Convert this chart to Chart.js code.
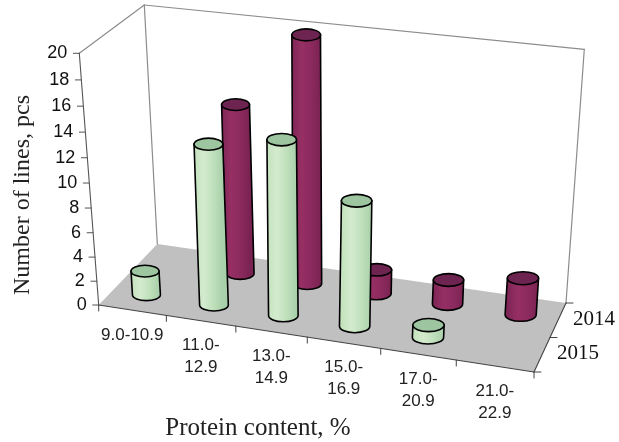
<!DOCTYPE html>
<html>
<head>
<meta charset="utf-8">
<style>
  html, body { margin: 0; padding: 0; background: #fff; }
  canvas { display: block; }
</style>
<script src="https://cdn.jsdelivr.net/npm/chart.js@4"></script>
</head>
<body>
<canvas id="chart" width="619" height="442"></canvas>
<script>
const categories = ['9.0-10.9', ['11.0-', '12.9'], ['13.0-', '14.9'], ['15.0-', '16.9'], ['17.0-', '20.9'], ['21.0-', '22.9']];
const years = ['2014', '2015'];
const values2014 = [0, 14, 20, 2, 2, 3];
const values2015 = [2, 13, 14, 10, 1, 0];
const yMax = 20;
const yStep = 2;
const xTitle = 'Protein content, %';
const yTitle = 'Number of lines, pcs';

// corners of the 3d box as seen in the reference
const box = {
    flb: [98.7, 305], flt: [79.3, 53.3],
    blb: [157.3, 244], blt: [144.3, 5],
    frb: [534, 372], frt: [556, 100],
    brb: [566, 303], brt: [584.3, 49.3]
};

const mix = (a, b, t) => [a[0] + (b[0] - a[0]) * t, a[1] + (b[1] - a[1]) * t];
// slight perspective foreshortening along an edge
const persp = (t, w) => t * w / ((1 - t) + t * w);

// x, v, d all 0..1: x left to right, v floor to top, d front to back
function project(x, v, d) {
    const px = persp(x, 0.92);
    const bottom = mix(mix(box.flb, box.frb, px), mix(box.blb, box.brb, px), d);
    const top = mix(mix(box.flt, box.frt, px), mix(box.blt, box.brt, px), d);
    return mix(bottom, top, persp(v, 0.94));
}

function line(ctx, a, b, color, width) {
    ctx.strokeStyle = color;
    ctx.lineWidth = width;
    ctx.beginPath();
    ctx.moveTo(a[0], a[1]);
    ctx.lineTo(b[0], b[1]);
    ctx.stroke();
}

function toUnit(chart) {
    const { x, y, depth } = chart.scales;
    return {
        x: i => x.getPixelForValue(i) / chart.width,
        v: val => (y.bottom - y.getPixelForValue(val)) / (y.bottom - y.top),
        d: name => depth.getPixelForValue(depth.getLabels().indexOf(name)) / chart.width
    };
}

function drawCylinder(ctx, x, v, d, half, colors) {
    const base = project(x, 0, d);
    const top = project(x, v, d);
    const left = project(x - half, 0, d), right = project(x + half, 0, d);
    const rx = (right[0] - left[0]) / 2;
    const ry = rx * 0.42;
    const grad = ctx.createLinearGradient(top[0] - rx, 0, top[0] + rx, 0);
    colors.side.forEach((c, i) => grad.addColorStop(i / (colors.side.length - 1), c));

    ctx.strokeStyle = '#000';
    ctx.lineWidth = 1.6;
    ctx.beginPath();
    ctx.moveTo(top[0] - rx, top[1]);
    ctx.lineTo(base[0] - rx, base[1]);
    ctx.ellipse(base[0], base[1], rx, ry, 0, Math.PI, 0, true);
    ctx.lineTo(top[0] + rx, top[1]);
    ctx.closePath();
    ctx.fillStyle = grad;
    ctx.fill();
    ctx.stroke();

    ctx.beginPath();
    ctx.ellipse(top[0], top[1], rx, ry, 0, 0, Math.PI * 2);
    ctx.fillStyle = colors.top;
    ctx.fill();
    ctx.stroke();
}

const seriesColors = {
    '2014': { top: '#6e2450', side: ['#7e2556', '#962f64', '#8c2a5e', '#7a2352'] },
    '2015': { top: '#9dc5a0', side: ['#c4e2bd', '#d4ebce', '#bfe0bb', '#a8d0aa'] }
};

const boxPlugin = {
    id: 'box3d',
    beforeDatasetsDraw(chart) {
        const ctx = chart.ctx;
        const u = toUnit(chart);
        ctx.save();
        ctx.lineCap = 'round';

        // floor
        ctx.fillStyle = '#c0c0c0';
        ctx.beginPath();
        [box.flb, box.frb, box.brb, box.blb].forEach((p, i) => i ? ctx.lineTo(p[0], p[1]) : ctx.moveTo(p[0], p[1]));
        ctx.closePath();
        ctx.fill();

        // walls
        line(ctx, box.flt, box.blt, '#8c8c8c', 1.2);
        line(ctx, box.blt, box.brt, '#8c8c8c', 1.2);
        line(ctx, box.blt, box.blb, '#8c8c8c', 1.2);
        line(ctx, box.brt, box.brb, '#8c8c8c', 1.2);

        // axes
        line(ctx, box.flb, box.flt, '#555', 1.1);
        line(ctx, box.flb, box.frb, '#444', 1.1);
        line(ctx, box.frb, box.brb, '#444', 1.1);

        // value axis ticks and labels
        ctx.fillStyle = '#111';
        ctx.font = '18px "Liberation Sans"';
        ctx.textAlign = 'right';
        ctx.textBaseline = 'middle';
        chart.scales.y.ticks.forEach(t => {
            const p = project(0, u.v(t.value), 0);
            line(ctx, [p[0] - 6, p[1]], p, '#555', 1);
            ctx.fillText(String(t.value), p[0] - 12, p[1]);
        });

        // category ticks and labels
        ctx.fillStyle = '#222';
        ctx.font = '17px "Liberation Sans"';
        ctx.textAlign = 'center';
        for (let i = 0; i <= categories.length; i++) {
            const p = project(i / categories.length, 0, 0);
            line(ctx, p, [p[0], p[1] + 6], '#444', 1);
        }
        categories.forEach((label, i) => {
            const p = project(u.x(i), 0, 0);
            [].concat(label).forEach((text, row) => ctx.fillText(text, p[0], p[1] + 25 + row * 22));
        });

        // depth ticks and labels
        ctx.fillStyle = '#111';
        ctx.font = '21px "Liberation Serif"';
        ctx.textAlign = 'left';
        for (let i = 0; i <= years.length; i++) {
            const p = project(1, 0, i / years.length);
            line(ctx, p, [p[0] + 7, p[1]], '#444', 1);
        }
        years.forEach(name => {
            const p = project(1, 0, u.d(name));
            ctx.fillText(name, p[0] + 15, p[1] - 1);
        });

        // axis titles
        ctx.fillStyle = '#222';
        ctx.font = '25px "Liberation Serif"';
        ctx.textAlign = 'center';
        ctx.fillText(xTitle, 258, 428);
        ctx.font = '24px "Liberation Serif"';
        ctx.save();
        ctx.translate(23, 195);
        ctx.rotate(-Math.PI / 2);
        ctx.fillText(yTitle, 0, 0);
        ctx.restore();
        ctx.restore();
    },
    afterDatasetsDraw(chart) {
        const ctx = chart.ctx;
        const u = toUnit(chart);
        const half = 0.42 / categories.length / 2;
        ctx.save();
        // back series first so the front one overlaps it
        chart.data.datasets.forEach(ds => {
            ds.data.forEach((val, i) => {
                if (!val) return;
                drawCylinder(ctx, u.x(i), u.v(val), u.d(ds.label), half, seriesColors[ds.label]);
            });
        });
        ctx.restore();
    }
};

new Chart(document.getElementById('chart'), {
    type: 'bar',
    data: {
        labels: categories,
        datasets: [
            { label: years[0], data: values2014, backgroundColor: 'transparent', xAxisID: 'x', yAxisID: 'y' },
            { label: years[1], data: values2015, backgroundColor: 'transparent', xAxisID: 'x', yAxisID: 'y' }
        ]
    },
    options: {
        responsive: false,
        animation: false,
        layout: { padding: 0 },
        plugins: { legend: { display: false }, tooltip: { enabled: false } },
        scales: {
            x: { type: 'category', display: false, offset: true },
            // 2015 sits at the front of the box, 2014 at the back
            depth: { type: 'category', axis: 'x', display: false, offset: true, labels: [years[1], years[0]] },
            y: { type: 'linear', display: false, min: 0, max: yMax, ticks: { stepSize: yStep } }
        }
    },
    plugins: [boxPlugin]
});
</script>
</body>
</html>
